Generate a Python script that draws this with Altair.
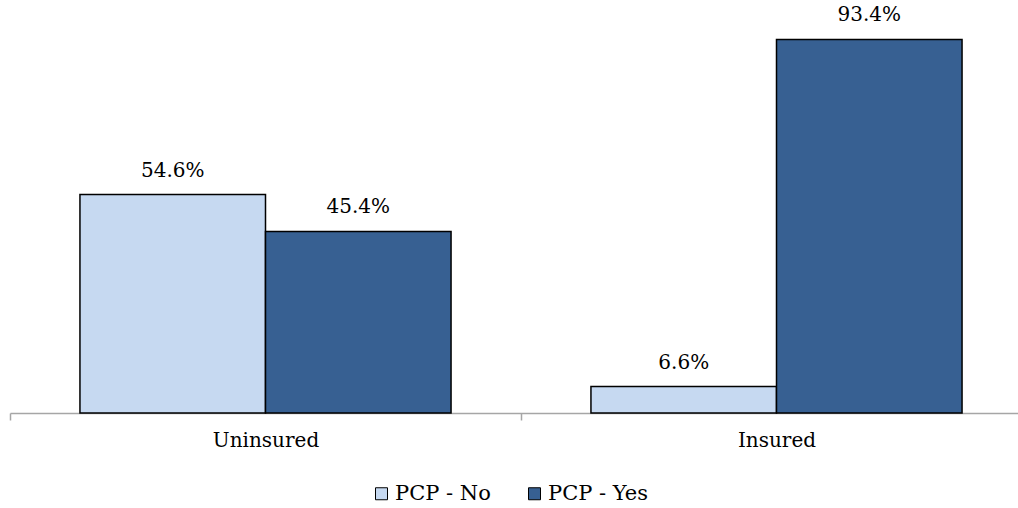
import altair as alt
import pandas as pd

groups = ["Uninsured", "Uninsured", "Insured", "Insured"]
series = ["PCP - No", "PCP - Yes", "PCP - No", "PCP - Yes"]
values = [54.6, 45.4, 6.6, 93.4]
labels = ["54.6%", "45.4%", "6.6%", "93.4%"]

df = pd.DataFrame({"group": groups, "series": series, "value": values, "label": labels})

FONT = "DejaVu Serif"

x = alt.X("group:N", sort=["Uninsured", "Insured"],
          scale=alt.Scale(paddingInner=0, paddingOuter=0, range=[0, 1022]),
          axis=alt.Axis(title=None, labelAngle=0, tickBand="extent",
                        domainColor="#a6a6a6", tickColor="#a6a6a6", domainWidth=1.5, tickWidth=1.5,
                        tickSize=7, labelFont=FONT, labelFontSize=20, labelColor="black",
                        labelPadding=10))
xo = alt.XOffset("series:N", sort=["PCP - No", "PCP - Yes"],
                 scale=alt.Scale(paddingOuter=0.377, paddingInner=0))
y = alt.Y("value:Q", scale=alt.Scale(domain=[0, 100]), axis=None)

base = alt.Chart(df).encode(x=x, xOffset=xo, y=y)

bars = base.mark_bar(stroke="black", strokeWidth=1.5).encode(
    color=alt.Color("series:N", sort=["PCP - No", "PCP - Yes"],
                    scale=alt.Scale(domain=["PCP - No", "PCP - Yes"], range=["#C6D9F1", "#376092"]),
                    legend=alt.Legend(title=None, orient="none", direction="horizontal",
                                      legendX=361, legendY=470, symbolType="square",
                                      symbolSize=144, symbolStrokeColor="black", symbolStrokeWidth=1,
                                      labelFont=FONT, labelFontSize=21, labelColor="black",
                                      labelOffset=3, columnPadding=33))
)

text = base.mark_text(font=FONT, fontSize=20, color="black", baseline="alphabetic", dy=-18).encode(
    text="label:N"
)

chart = (bars + text).properties(
    width=1006, height=400,
    autosize=alt.AutoSizeParams(type="none"),
    padding={"left": 10, "top": 13, "right": 2, "bottom": 95},
).configure_view(stroke=None)

chart.save("out.html", embed_options={"renderer": "svg", "actions": False})
